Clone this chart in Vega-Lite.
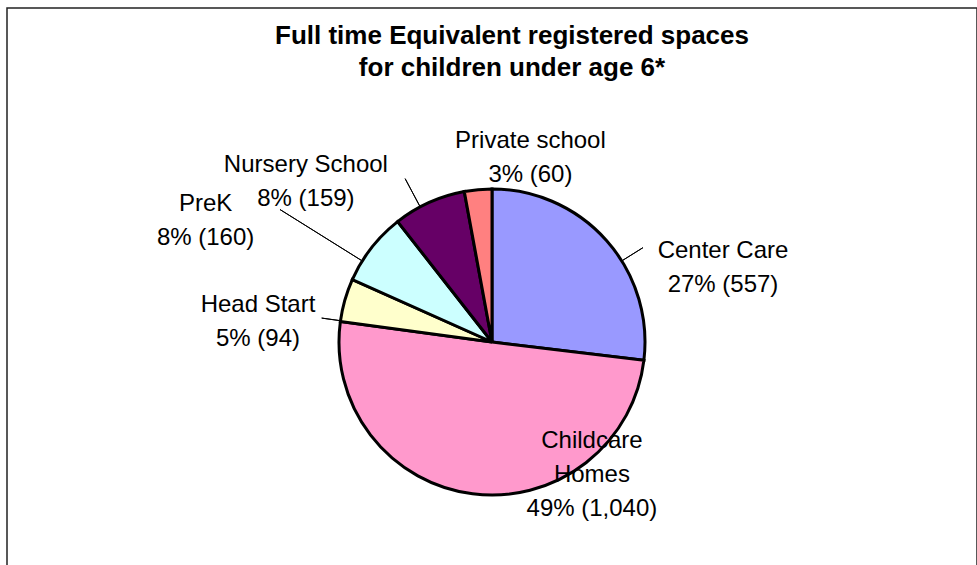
{
  "$schema": "https://vega.github.io/schema/vega-lite/v6.json",
  "autosize": "none",
  "padding": {"left": 7, "top": 8, "right": 0, "bottom": 0},
  "width": 970,
  "height": 668,
  "background": "white",
  "title": {
    "text": ["Full time Equivalent registered spaces", "for children under age 6*"],
    "font": "Liberation Sans",
    "fontSize": 26,
    "fontWeight": "bold",
    "color": "#000000",
    "lineHeight": 32,
    "anchor": "middle",
    "baseline": "bottom",
    "offset": -100,
    "dx": 20
  },
  "config": {
    "view": {"stroke": null},
    "text": {"font": "Liberation Sans", "fontSize": 24, "lineHeight": 34, "align": "center", "baseline": "alphabetic", "color": "#000000"}
  },
  "datasets": {
    "spaces": [
      {"category": "Center Care", "value": 557, "label": "Center Care\n27% (557)", "idx": 1},
      {"category": "Childcare Homes", "value": 1040, "label": "Childcare\nHomes\n49% (1,040)", "idx": 2},
      {"category": "Head Start", "value": 94, "label": "Head Start\n5% (94)", "idx": 3},
      {"category": "PreK", "value": 160, "label": "PreK\n8% (160)", "idx": 4},
      {"category": "Nursery School", "value": 159, "label": "Nursery School\n8% (159)", "idx": 5},
      {"category": "Private school", "value": 60, "label": "Private school\n3% (60)", "idx": 6}
    ],
    "frame": [{"name": "frame"}]
  },
  "data": {"name": "spaces"},
  "layer": [
    {
      "data": {"name": "frame"},
      "mark": {"type": "rect", "fill": null, "filled": false, "stroke": "#222222", "strokeWidth": 1.5},
      "encoding": {}
    },
    {
      "mark": {"type": "arc", "outerRadius": 153, "stroke": "#000000", "strokeWidth": 3},
      "encoding": {
        "theta": {"field": "value", "type": "quantitative", "stack": true},
        "order": {"field": "idx", "type": "quantitative"},
        "color": {
          "field": "category",
          "type": "nominal",
          "legend": null,
          "scale": {
            "domain": ["Center Care", "Childcare Homes", "Head Start", "PreK", "Nursery School", "Private school"],
            "range": ["#9999FF", "#FF99CC", "#FFFFCC", "#CCFFFF", "#660066", "#FF8080"]
          }
        }
      }
    },
    {
      "transform": [
        {"stack": "value", "groupby": [], "sort": [{"field": "idx", "order": "ascending"}], "as": ["s0", "s1"]},
        {"filter": "datum.category === 'Center Care' || datum.category === 'Head Start' || datum.category === 'PreK' || datum.category === 'Nursery School'"}
      ],
      "layer": [
        {
          "transform": [{"filter": "datum.category === 'Center Care'"}],
          "mark": {"type": "arc", "filled": false, "stroke": "#000000", "strokeWidth": 1, "innerRadius": 153, "outerRadius": 178, "thetaOffset": 1.0123, "theta2Offset": 1.0123},
          "encoding": {"theta": {"field": "s0", "type": "quantitative"}, "theta2": {"field": "s0"}}
        },
        {
          "transform": [{"filter": "datum.category === 'Head Start'"}],
          "mark": {"type": "arc", "filled": false, "stroke": "#000000", "strokeWidth": 1, "innerRadius": 153, "outerRadius": 172, "thetaOffset": 0.0045, "theta2Offset": 0.0045},
          "encoding": {"theta": {"field": "s0", "type": "quantitative"}, "theta2": {"field": "s0"}}
        },
        {
          "transform": [{"filter": "datum.category === 'PreK'"}],
          "mark": {"type": "arc", "filled": false, "stroke": "#000000", "strokeWidth": 1, "innerRadius": 153, "outerRadius": 250, "thetaOffset": 0.1381, "theta2Offset": 0.1381},
          "encoding": {"theta": {"field": "s0", "type": "quantitative"}, "theta2": {"field": "s0"}}
        },
        {
          "transform": [{"filter": "datum.category === 'Nursery School'"}],
          "mark": {"type": "arc", "filled": false, "stroke": "#000000", "strokeWidth": 1, "innerRadius": 153, "outerRadius": 185, "thetaOffset": 0.1761, "theta2Offset": 0.1761},
          "encoding": {"theta": {"field": "s0", "type": "quantitative"}, "theta2": {"field": "s0"}}
        }
      ]
    },
    {
      "encoding": {
        "theta": {"field": "value", "type": "quantitative", "stack": true},
        "order": {"field": "idx", "type": "quantitative"},
        "detail": {"field": "category", "type": "nominal"}
      },
      "layer": [
        {
          "mark": {"type": "text", "lineBreak": "\n", "radius": 245.8, "thetaOffset": 0.3765},
          "encoding": {"text": {"condition": {"test": "datum.category === 'Center Care'", "field": "label"}, "value": ""}}
        },
        {
          "mark": {"type": "text", "lineBreak": "\n", "radius": 145.7, "thetaOffset": -0.8831},
          "encoding": {"text": {"condition": {"test": "datum.category === 'Childcare Homes'", "field": "label"}, "value": ""}}
        },
        {
          "mark": {"type": "text", "lineBreak": "\n", "radius": 235.9, "thetaOffset": -0.1503},
          "encoding": {"text": {"condition": {"test": "datum.category === 'Head Start'", "field": "label"}, "value": ""}}
        },
        {
          "mark": {"type": "text", "lineBreak": "\n", "radius": 315.0, "thetaOffset": -0.2339},
          "encoding": {"text": {"condition": {"test": "datum.category === 'PreK'", "field": "label"}, "value": ""}}
        },
        {
          "mark": {"type": "text", "lineBreak": "\n", "radius": 252.0, "thetaOffset": -0.4074},
          "encoding": {"text": {"condition": {"test": "datum.category === 'Nursery School'", "field": "label"}, "value": ""}}
        },
        {
          "mark": {"type": "text", "lineBreak": "\n", "radius": 197.8, "thetaOffset": 0.2866},
          "encoding": {"text": {"condition": {"test": "datum.category === 'Private school'", "field": "label"}, "value": ""}}
        }
      ]
    }
  ]
}
